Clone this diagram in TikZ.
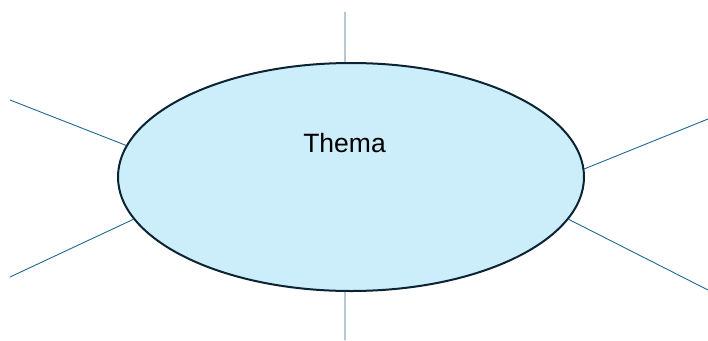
\documentclass[tikz,border=0pt]{standalone}
\usepackage{fontspec}
\setmainfont{Liberation Sans}
\definecolor{themafill}{HTML}{CCEEFB}
\definecolor{themaline}{HTML}{0B2333}
\definecolor{armline}{HTML}{1F6890}
\usetikzlibrary{shapes.geometric}
\begin{document}
\begin{tikzpicture}[x=1pt, y=-1pt, line join=round, line cap=round]
\tikzset{arm/.style={draw=armline, line width=0.9pt}}
\useasboundingbox (0,0) rectangle (708,340);
\node[ellipse, draw=themaline, fill=themafill, line width=2pt, inner sep=0pt,
      minimum width=466pt, minimum height=228pt] (thema) at (351,177) {};
\node[anchor=base, font=\fontsize{26.5}{30}\selectfont] (titel) at (344.5,152.7) {Thema};
\coordinate (n) at (345,12);   \coordinate (s) at (345,340);
\coordinate (nw) at (10,100);  \coordinate (sw) at (10,277);
\coordinate (ne) at (708,119); \coordinate (se) at (708,290);
\draw[arm] (thema.93)--(n);
\draw[arm] (thema.267)--(s);
\draw[arm] (thema.172.7)--(nw);
\draw[arm] (thema.191.5)--(sw);
\draw[arm] (thema.2.2)--(ne);
\draw[arm] (thema.349.1)--(se);
\end{tikzpicture}
\end{document}
